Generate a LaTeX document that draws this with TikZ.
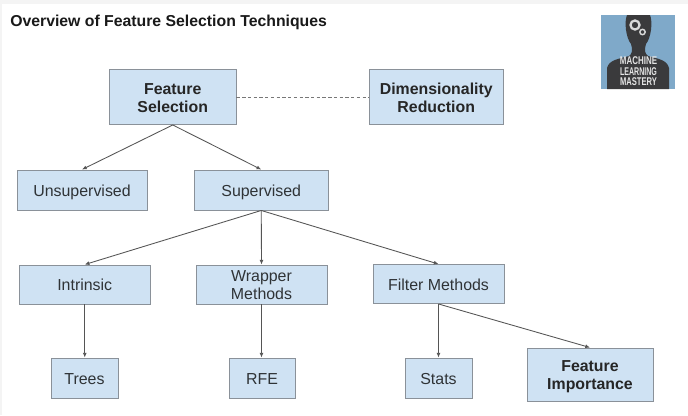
\documentclass[tikz,border=0pt]{standalone}
\usepackage{fontspec}
\setmainfont{Liberation Sans}
\usetikzlibrary{arrows.meta}
\definecolor{boxfill}{HTML}{CFE2F3}
\definecolor{boxline}{HTML}{8A9199}
\definecolor{inkc}{HTML}{2F3336}
\definecolor{wirec}{HTML}{555555}
\definecolor{logoblue}{HTML}{7FA9C9}
\definecolor{logodark}{HTML}{3A3A3C}
\definecolor{stripc}{HTML}{F4F4F4}
\tikzset{
  x=0.75pt,y=-0.75pt,
  boxn/.style={draw=boxline,fill=boxfill,line width=0.7pt,inner sep=0pt,text=inkc,font=\fontsize{11.95}{13.6}\selectfont},
  boldn/.style={boxn,font=\fontsize{11.9}{13.6}\selectfont\bfseries,text=black!85},
  wire/.style={draw=wirec,line width=0.65pt,-{Latex[length=3.5pt,width=3pt]}},
  dashwire/.style={draw=wirec!80,line width=0.5pt,dash pattern=on 2.5pt off 1.8pt},
  logotext/.style={text=white!90!black,inner sep=0pt,font=\fontsize{8.4}{8.4}\selectfont\bfseries}
}
\newcommand{\bx}[7]{\node[#2,minimum width=#5*0.75pt-#3*0.75pt,minimum height=#6*0.75pt-#4*0.75pt] (#1) at ({(#3+#5)/2},{(#4+#6)/2}) {\raisebox{-2pt}[\height][\depth]{\begin{tabular}{@{}c@{}}#7\end{tabular}}};}
\begin{document}
\begin{tikzpicture}
\useasboundingbox (0,0) rectangle (688,415);
\fill[white] (0,0) rectangle (688,415);
\fill[stripc] (0,0) rectangle (688,4);
\fill[stripc] (0,0) rectangle (2,415);
\node[anchor=west,inner sep=0pt,font=\fontsize{11.85}{14}\selectfont\bfseries,text=black!90] (title) at (10,22.5) {Overview of Feature Selection Techniques};
% logo
\fill[logoblue] (601,15) rectangle (675,89);
\fill[logodark] (607,89) -- (607,68) .. controls (609,60) and (618,59) .. (629,56) .. controls (632,54) and (633,50) .. (631,44) .. controls (626,38) and (624,22) .. (627,15) -- (650,15) .. controls (653,22) and (651,38) .. (646,44) .. controls (644,50) and (645,54) .. (648,56) .. controls (659,59) and (667,60) .. (669,68) -- (669,89) -- cycle;
\draw[white!85!black,line width=1.7pt] (635,25) circle (3.4pt);
\draw[white!85!black,line width=1.1pt] (642.5,32) circle (2pt);
\node[logotext] (l1) at (638.5,60.5) {\scalebox{0.71}[1]{MACHINE}};
\node[logotext] (l2) at (638.5,71.2) {\scalebox{0.63}[1]{LEARNING}};
\node[logotext] (l3) at (638.5,82) {\scalebox{0.68}[1]{MASTERY}};
% boxes
\bx{fs}{boldn}{109.5}{69.5}{236}{124.5}{Feature\\Selection}
\bx{dr}{boldn}{369.5}{69.5}{503}{124.5}{Dimensionality\\Reduction}
\bx{un}{boxn}{17}{170}{147}{210}{Unsupervised}
\bx{su}{boxn}{194.5}{170}{328}{210}{Supervised}
\bx{in}{boxn}{19.5}{265}{150}{304}{Intrinsic}
\bx{wr}{boxn}{196}{265}{327}{304}{Wrapper\\Methods}
\bx{fi}{boxn}{373}{264.5}{504}{303.5}{Filter Methods}
\bx{tr}{boxn}{51}{358}{118}{398}{Trees}
\bx{rf}{boxn}{229}{358}{295}{398}{RFE}
\bx{st}{boxn}{405}{358}{472}{398}{Stats}
\bx{im}{boldn}{527}{348}{653}{401}{Feature\\Importance}
% connectors
\draw[dashwire] (fs.east) -- (dr.west);
\draw[wire] (fs.south) -- (un.north);
\draw[wire] (fs.south) -- (su.north);
\draw[wire] (su.south) -- (in.north);
\draw[wire] (su.south) -- (wr.north);
\draw[wire] (su.south) -- (fi.north);
\draw[wire] (in.south) -- (in.south |- tr.north);
\draw[wire] (wr.south) -- (wr.south |- rf.north);
\draw[wire] (fi.south) -- (fi.south |- st.north);
\draw[wire] (fi.south) -- (im.north);
\end{tikzpicture}
\end{document}
